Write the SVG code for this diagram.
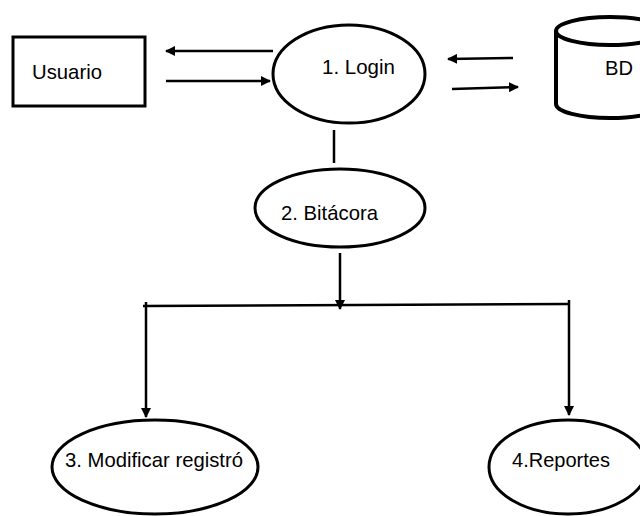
<svg xmlns="http://www.w3.org/2000/svg" width="640" height="516" viewBox="0 0 640 516">
  <style>
    .shape { fill: #ffffff; stroke: #000000; stroke-width: 3; }
    .db { fill: #ffffff; stroke: #000000; stroke-width: 4; }
    .label { font-family: "Liberation Sans", Arial, sans-serif; font-size: 21px; fill: #000000; }
    .flow { fill: none; stroke: #000000; stroke-width: 2.5; }
    .arrow { fill: none; stroke: #000000; stroke-width: 2.5; marker-end: url(#head); }
  </style>
  <defs>
    <marker id="head" viewBox="0 0 10 10" refX="9" refY="5" markerWidth="4" markerHeight="4" orient="auto" markerUnits="strokeWidth">
      <path d="M0,0 L10,5 L0,10 Z" fill="#000000"/>
    </marker>
  </defs>
  <rect width="640" height="516" fill="#ffffff"/>

  <!-- external entity -->
  <g id="usuario">
    <rect class="shape" x="13" y="37" width="132" height="69"/>
    <text class="label" x="32" y="79" textLength="70" lengthAdjust="spacingAndGlyphs">Usuario</text>
  </g>

  <!-- processes -->
  <g id="login">
    <ellipse class="shape" cx="349" cy="74" rx="76" ry="49"/>
    <text class="label" x="322" y="74" textLength="73" lengthAdjust="spacingAndGlyphs">1. Login</text>
  </g>

  <g id="bitacora">
    <ellipse class="shape" cx="340" cy="208" rx="85" ry="39"/>
    <text class="label" x="281" y="220" textLength="97" lengthAdjust="spacingAndGlyphs">2. Bitácora</text>
  </g>

  <g id="modificar">
    <ellipse class="shape" cx="155" cy="467" rx="103" ry="47"/>
    <text class="label" x="65" y="467" textLength="178" lengthAdjust="spacingAndGlyphs">3. Modificar registró</text>
  </g>

  <g id="reportes">
    <ellipse class="shape" cx="568" cy="467" rx="79" ry="47"/>
    <text class="label" x="512" y="467" textLength="98" lengthAdjust="spacingAndGlyphs">4.Reportes</text>
  </g>

  <!-- data store -->
  <g id="bd">
    <path class="db" d="M556,31 L556,104 A54,14 0 0 0 664,104 L664,31"/>
    <ellipse class="db" cx="610" cy="31" rx="54" ry="14"/>
    <text class="label" x="605" y="75" textLength="28" lengthAdjust="spacingAndGlyphs">BD</text>
  </g>

  <!-- data flows -->
  <g id="connectors">
    <line class="arrow" x1="273" y1="51" x2="166" y2="51"/>
    <line class="arrow" x1="166" y1="81" x2="270" y2="81"/>
    <line class="arrow" x1="513" y1="58" x2="448" y2="59"/>
    <line class="arrow" x1="452" y1="89" x2="518" y2="87"/>
    <line class="flow" x1="334" y1="130" x2="334" y2="163"/>
    <line class="arrow" x1="340" y1="253" x2="340" y2="309"/>
    <line class="flow" x1="143" y1="306" x2="569" y2="304"/>
    <line class="arrow" x1="146" y1="302" x2="146" y2="417"/>
    <line class="arrow" x1="569" y1="300" x2="569" y2="415"/>
  </g>
</svg>
